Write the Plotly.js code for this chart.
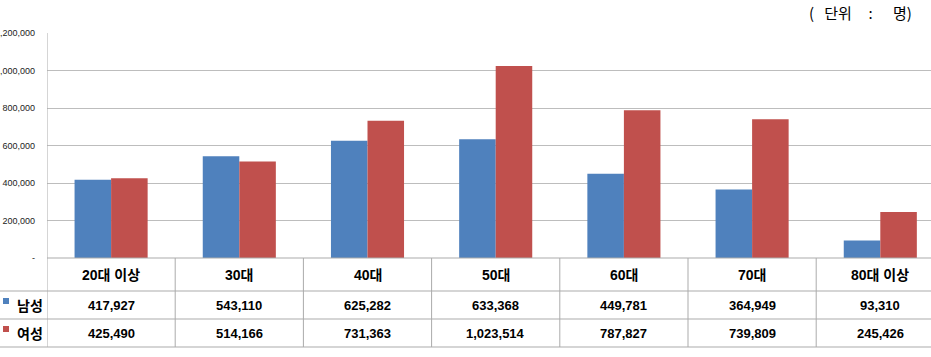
<!DOCTYPE html>
<html>
<head>
<meta charset="utf-8">
<script src="https://cdn.plot.ly/plotly-3.0.1.min.js"></script>
<style>html,body{margin:0;padding:0;background:#fff;}#chart{width:931px;height:357px;}</style>
</head>
<body>
<div id="chart"></div>
<script>
const categories = ['20대 이상', '30대', '40대', '50대', '60대', '70대', '80대 이상'];
const seriesNames = ['남성', '여성'];
const male = [417927, 543110, 625282, 633368, 449781, 364949, 93310];
const female = [425490, 514166, 731363, 1023514, 787827, 739809, 245426];
const yTickVals = [0, 200000, 400000, 600000, 800000, 1000000, 1200000];
const yTickText = ['-', '200,000', '400,000', '600,000', '800,000', '1,000,000', '1,200,000'];
const unitLabel = '(&nbsp;&nbsp;&nbsp;단위&nbsp;&nbsp;&nbsp;&nbsp;&nbsp;:&nbsp;&nbsp;&nbsp;&nbsp;&nbsp;&nbsp;명)';

const W = 931, H = 357;
const M = {l: 47, r: 0, t: 33, b: 99};
const plotW = W - M.l - M.r, plotH = H - M.t - M.b;
const catPx = 128.2;
const blue = '#4F81BD', red = '#C0504D';
const lineCol = '#ABABAB';
const py = p => (H - M.b - p) / plotH;     // pixel y -> paper y
const pxp = p => (p - M.l) / plotW;         // pixel x -> paper x

const xs = categories.map((c, i) => i);
const fmt = v => v.toLocaleString('en-US');

const traces = [
  {type: 'bar', x: xs, y: male, name: seriesNames[0], marker: {color: blue, line: {width: 0}}, hoverinfo: 'y'},
  {type: 'bar', x: xs, y: female, name: seriesNames[1], marker: {color: red, line: {width: 0}}, hoverinfo: 'y'}
];

const shapes = [];
const annotations = [];
const rowTop = 258, rowA = 291, rowB = 319, rowBot = 347;

// vertical table/category separators
for (let i = 0; i <= categories.length; i++) {
  shapes.push({type: 'line', xref: 'x', yref: 'paper', x0: i - 0.5, x1: i - 0.5,
    y0: py(rowBot), y1: (i === 0 ? 1 : 0), line: {color: lineCol, width: 1}, layer: 'above'});
}
// horizontal lines
shapes.push({type: 'line', xref: 'paper', yref: 'paper', x0: 0, x1: 1, y0: 0, y1: 0, line: {color: lineCol, width: 1}});
[rowA, rowB, rowBot].forEach(r => {
  shapes.push({type: 'line', xref: 'paper', yref: 'paper', x0: pxp(0), x1: 1, y0: py(r), y1: py(r), line: {color: lineCol, width: 1}});
});

const tblFont = {family: 'Liberation Sans, Noto Sans CJK KR, sans-serif', size: 13, color: '#000'};
const catFont = {family: 'Liberation Sans, Noto Sans CJK KR, sans-serif', size: 14, color: '#000'};
categories.forEach((c, i) => {
  annotations.push({xref: 'x', yref: 'paper', x: i, y: py((rowTop + rowA) / 2), text: '<b>' + c + '</b>',
    showarrow: false, xanchor: 'center', yanchor: 'middle', font: catFont});
  annotations.push({xref: 'x', yref: 'paper', x: i, y: py((rowA + rowB) / 2), text: '<b>' + fmt(male[i]) + '</b>',
    showarrow: false, xanchor: 'center', yanchor: 'middle', font: tblFont});
  annotations.push({xref: 'x', yref: 'paper', x: i, y: py((rowB + rowBot) / 2), text: '<b>' + fmt(female[i]) + '</b>',
    showarrow: false, xanchor: 'center', yanchor: 'middle', font: tblFont});
});

// legend keys in table
[[seriesNames[0], blue, (rowA + rowB) / 2], [seriesNames[1], red, (rowB + rowBot) / 2]].forEach(([name, col, cy]) => {
  shapes.push({type: 'rect', xref: 'paper', yref: 'paper', x0: pxp(3), x1: pxp(9),
    y0: py(cy - 7), y1: py(cy - 1), fillcolor: col, line: {width: 0}});
  annotations.push({xref: 'paper', yref: 'paper', x: pxp(15), y: py(cy), text: '<b>' + name + '</b>',
    showarrow: false, xanchor: 'left', yanchor: 'middle',
    font: {family: 'Noto Sans CJK KR, sans-serif', size: 14, color: '#000'}});
});

// unit label
annotations.push({xref: 'paper', yref: 'paper', x: pxp(914), y: py(12), text: unitLabel,
  showarrow: false, xanchor: 'right', yanchor: 'middle',
  font: {family: 'Noto Sans CJK KR, sans-serif', size: 15, color: '#000'}});

const layout = {
  width: W, height: H,
  margin: M,
  paper_bgcolor: '#fff', plot_bgcolor: '#fff',
  showlegend: false,
  barmode: 'group', bargap: 0.43, bargroupgap: 0,
  xaxis: {range: [-0.5, -0.5 + plotW / catPx], showticklabels: false, showgrid: false, zeroline: false,
    showline: false, ticks: '', fixedrange: true},
  yaxis: {range: [0, 1200000], tickvals: yTickVals, ticktext: yTickText, showgrid: true,
    gridcolor: '#BDBDBD', gridwidth: 1, zeroline: false, showline: false, ticks: '',
    ticklabelstandoff: 11, automargin: false,
    tickfont: {family: 'Liberation Sans, sans-serif', size: 9, color: '#222'}, fixedrange: true},
  shapes: shapes,
  annotations: annotations
};

Plotly.newPlot('chart', traces, layout, {displayModeBar: false, staticPlot: true});
</script>
</body>
</html>
